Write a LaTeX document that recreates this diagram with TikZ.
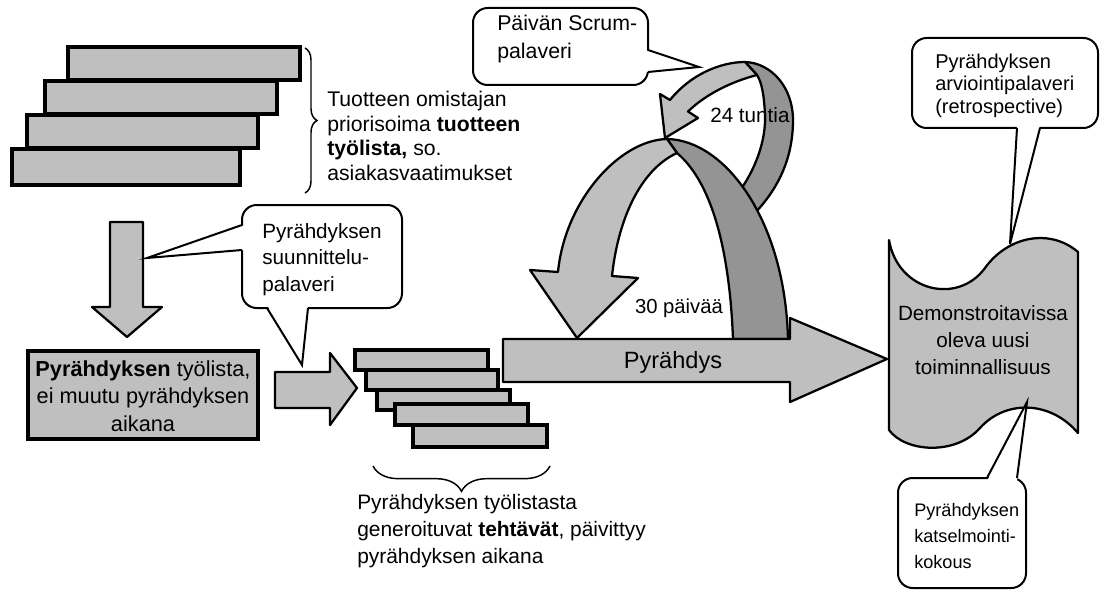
\documentclass[tikz,border=0pt]{standalone}
\usepackage{fontspec}
\setmainfont{Liberation Sans}
\usetikzlibrary{decorations.pathreplacing}
\begin{document}
\begin{tikzpicture}[x=0.75pt,y=-0.75pt,
  light/.style={fill=black!25},
  darkfill/.style={fill=black!42},
  outl/.style={draw=black, line width=1.7pt, line join=round},
  bar/.style={draw=black, line width=2.4pt, fill=black!25},
  bubble/.style={draw=black, line width=1.5pt, fill=white, rounded corners=11pt},
  ptr/.style={draw=black, line width=1.5pt, line join=miter},
  brc/.style={draw=black, line width=1.1pt, decorate},
  lbl/.style={inner sep=0pt, align=left},
  clbl/.style={inner sep=0pt, align=center},
]
\useasboundingbox (0,0) rectangle (1101,592);

% ---- product backlog stack (top left)
\path[bar] (68,47) rectangle (300,80);
\path[bar] (45,81) rectangle (277,114);
\path[bar] (27,115) rectangle (258,148);
\path[bar] (12,149) rectangle (240,185);
\draw[brc, decoration={brace, amplitude=9pt}] (305,48) -- (305,193);
\node[lbl, anchor=west, font=\fontsize{15.9}{18.4}\selectfont] (backlog) at (327,136)
  {Tuotteen omistajan\\priorisoima \textbf{tuotteen}\\\textbf{työlista,} so.\\asiakasvaatimukset};

% ---- down arrow
\path[outl, light] (110,222) -- (143,222) -- (143,307) -- (162,307) -- (127,337) -- (92,307) -- (110,307) -- cycle;

% ---- sprint backlog box
\path[bar] (28,351) rectangle (258,439);
\node[clbl, font=\fontsize{16.3}{20.5}\selectfont] (sbl) at (143,396)
  {\textbf{Pyrähdyksen} työlista,\\ei muutu pyrähdyksen\\aikana};

% ---- small right arrow
\path[outl, light] (275,372) -- (330,372) -- (330,353) -- (357,388) -- (330,425) -- (330,408) -- (275,408) -- cycle;

% ---- task stack
\path[bar] (355,350) rectangle (488,370);
\path[bar] (366,370) rectangle (498,390);
\path[bar] (377,390) rectangle (510,410);
\path[bar] (395,404) rectangle (528,425);
\path[bar] (413,425) rectangle (547,447);
\draw[brc, decoration={brace, amplitude=19pt}] (550,466) -- (373,466);
\node[lbl, anchor=west, font=\fontsize{15.7}{20.25}\selectfont] (tasks) at (357,531)
  {Pyrähdyksen työlistasta\\generoituvat \textbf{tehtävät}, päivittyy\\pyrähdyksen aikana};

% ---- planning meeting callout
\path[bubble] (242,205) rectangle (402,308);
\fill[white] (245,225) -- (147,258) -- (245,250) -- cycle;
\draw[ptr] (242,225) -- (147,258) -- (242,250);
\fill[white] (267,305) -- (302,365) -- (308,305) -- cycle;
\draw[ptr] (267,308) -- (302,365) -- (308,308);
\node[lbl, anchor=west, font=\fontsize{15.5}{19.9}\selectfont] (plan) at (262,259.5)
  {Pyrähdyksen\\suunnittelu-\\palaveri};

% ---- small loop (24 h), back part then front part
\path[outl, darkfill] (745,62) .. controls (772,63) and (793,88) .. (793,120)
  .. controls (793,160) and (777,190) .. (754,214) -- (736,196)
  .. controls (756,170) and (766,140) .. (765,115)
  .. controls (764,95) and (762,83) .. (757,75) -- cycle;
\path[outl, light] (745,62) .. controls (720,62) and (690,75) .. (670,100)
  -- (660,94) -- (665,138) -- (698,118) -- (688,111.5)
  .. controls (705,95) and (730,82) .. (757,75) -- cycle;
\node[lbl, anchor=west, font=\fontsize{15.5}{18}\selectfont] (day) at (710,115) {24 tuntia};

% ---- big arch (30 days), back part then front part
\path[outl, darkfill] (667,139) .. controls (725,140) and (785,220) .. (788,339)
  -- (733,339) .. controls (730,260) and (715,185) .. (677,153) -- cycle;
\path[outl, light] (667,139) .. controls (620,140) and (565,200) .. (558,272)
  -- (530,270) -- (577,338) -- (638,278) -- (612,276)
  .. controls (618,220) and (640,170) .. (677,153) -- cycle;
\node[lbl, anchor=center, font=\fontsize{15.2}{18}\selectfont] (month) at (679,308) {30 päivää};

% ---- sprint arrow
\path[outl, light] (503,339) -- (790,339) -- (790,318) -- (887,359) -- (790,402) -- (790,382) -- (503,382) -- cycle;
\node[clbl, font=\fontsize{17.7}{20}\selectfont] (sprint) at (673,362) {Pyrähdys};

% ---- daily scrum callout
\path[bubble] (473,8) rectangle (648,85);
\fill[white] (645,50) -- (699,67) -- (645,72) -- cycle;
\draw[ptr] (648,50) -- (699,67) -- (648,72);
\node[lbl, anchor=west, font=\fontsize{16}{21}\selectfont] (daily) at (497,39)
  {Päivän Scrum-\\palaveri};

% ---- increment document
\path[outl, light] (889,240) .. controls (898,292) and (958,305) .. (985,268)
  .. controls (1008,236) and (1050,228) .. (1078,252) -- (1078,433)
  .. controls (1050,400) and (1005,400) .. (980,428)
  .. controls (955,456) and (905,452) .. (889,430) -- cycle;
\node[clbl, font=\fontsize{15.5}{20.25}\selectfont] (incr) at (983,340)
  {Demonstroitavissa\\oleva uusi\\toiminnallisuus};

% ---- retrospective callout
\path[bubble] (912,38) rectangle (1098,128);
\fill[white] (1017,125) -- (1010,244) -- (1040,125) -- cycle;
\draw[ptr] (1017,128) -- (1010,244) -- (1040,128);
\node[lbl, anchor=west, font=\fontsize{15}{16.9}\selectfont] (retro) at (935,85.5)
  {Pyrähdyksen\\arviointipalaveri\\(retrospective)};

% ---- review callout
\path[bubble] (898,478) rectangle (1026,588);
\fill[white] (987,481) -- (1027,402) -- (1017,481) -- cycle;
\draw[ptr] (987,478) -- (1027,402) -- (1017,478);
\node[lbl, anchor=west, font=\fontsize{13.6}{19.5}\selectfont] (review) at (914,536)
  {Pyrähdyksen\\katselmointi-\\kokous};
\end{tikzpicture}
\end{document}
